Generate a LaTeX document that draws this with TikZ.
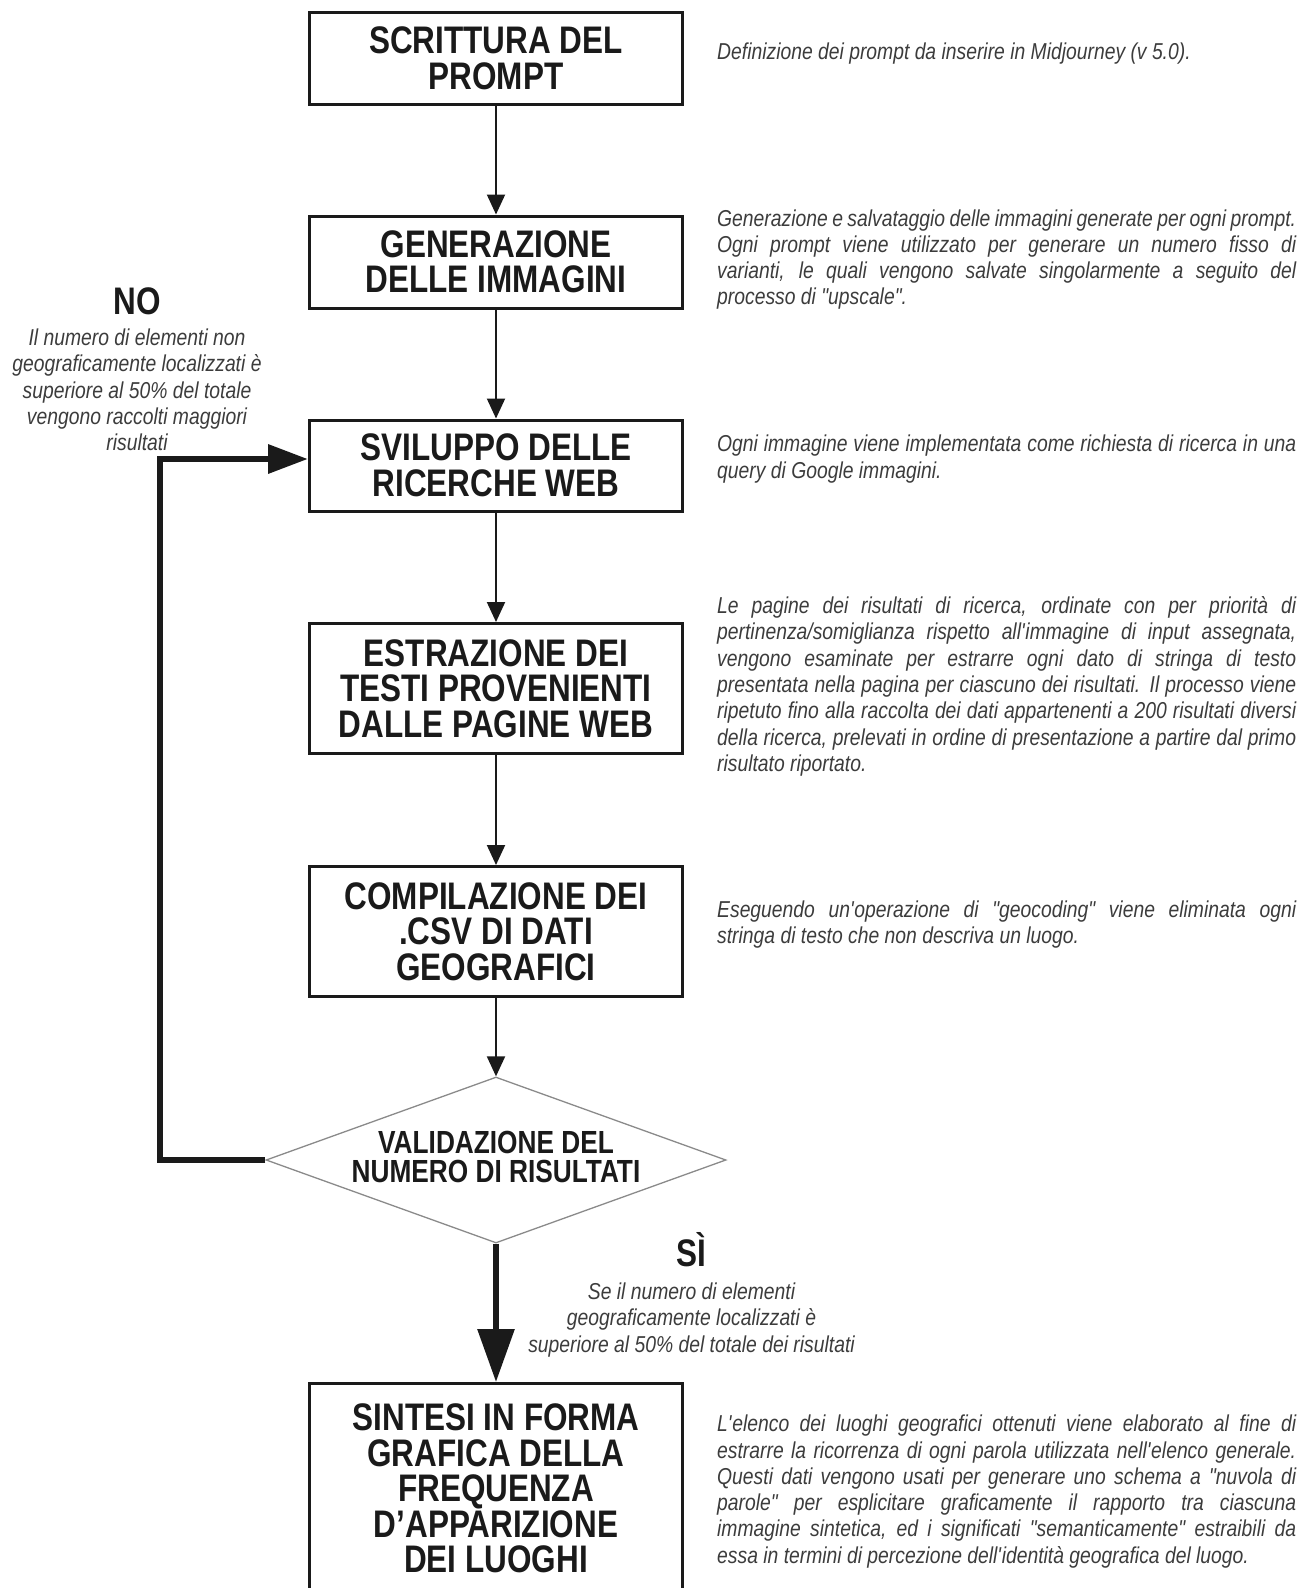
\documentclass[tikz,border=0pt]{standalone}
\usepackage{fontspec}
\usetikzlibrary{arrows.meta,shapes.geometric}
\newfontfamily\descfont[FakeStretch=0.84]{Liberation Sans}
\newfontfamily\narrowfont[FakeStretch=0.82]{Liberation Sans}
\newlength\descw \setlength\descw{579pt}
\newcommand\jl[1]{\makebox[\descw][s]{#1}\\}
\newcommand\ap{\textquotesingle}
\definecolor{boxink}{HTML}{1A1A1A}
\definecolor{descink}{HTML}{3C3C3C}
\definecolor{dmline}{HTML}{8A8A8A}
\begin{document}
\begin{tikzpicture}[x=1pt,y=-1pt,
  box/.style={draw=boxink, line width=3pt, minimum width=373pt, inner sep=0pt,
    align=center, text=boxink, font=\narrowfont\bfseries\fontsize{38.4}{35.5}\selectfont},
  big/.style={inner sep=0pt, text=boxink, font=\narrowfont\bfseries\fontsize{38.4}{35.5}\selectfont},
  desc/.style={anchor=west, align=left, inner sep=0pt, text=descink,
    font=\descfont\itshape\fontsize{23}{26.3}\selectfont},
  side/.style={align=center, inner sep=0pt, text=descink,
    font=\descfont\itshape\fontsize{23}{26.3}\selectfont},
  flow/.style={draw=boxink, line width=2pt, -{Triangle[length=20pt,width=18pt]}},
  fb/.style={draw=boxink, line width=6.5pt, line join=miter, -{Triangle[length=40pt,width=28pt]}},
  yes/.style={draw=boxink, line width=6pt, -{Triangle[length=53pt,width=36pt]}}]
\useasboundingbox (0,0) rectangle (1308,1588);

% boxes
\node[box, minimum height=92pt] (B1) at (496,58.5) {SCRITTURA DEL\\PROMPT};
\node[box, minimum height=92pt] (B2) at (496,262) {GENERAZIONE\\DELLE IMMAGINI};
\node[box, minimum height=91pt] (B3) at (496,465.5) {SVILUPPO DELLE\\RICERCHE WEB};
\node[box, minimum height=130pt] (B4) at (496,688.5) {ESTRAZIONE DEI\\TESTI PROVENIENTI\\DALLE PAGINE WEB};
\node[box, minimum height=130pt] (B5) at (496,931.5) {COMPILAZIONE DEI\\.CSV DI DATI\\GEOGRAFICI};
\node[draw=dmline, line width=1.3pt, shape=diamond, minimum width=460pt, minimum height=166pt, inner sep=0pt] (D) at (496,1160) {};
\node[align=center, inner sep=0pt, text=boxink, font=\narrowfont\bfseries\fontsize{32}{29.5}\selectfont] (DT) at (496,1157) {VALIDAZIONE DEL\\NUMERO DI RISULTATI};
\node[box, minimum height=210pt, anchor=north] (B6) at (496,1382) {SINTESI IN FORMA\\GRAFICA DELLA\\FREQUENZA\\D’APPARIZIONE\\DEI LUOGHI};

% connectors
\draw[flow] (B1) -- (B2);
\draw[flow] (B2) -- (B3);
\draw[flow] (B3) -- (B4);
\draw[flow] (B4) -- (B5);
\draw[flow] (B5) -- (D);
\draw[yes] (D.south) -- (B6.north);
\coordinate (fbc) at (160,459);
\draw[fb] (D.west) -| (fbc) -- (B3.west |- fbc);

% NO / SI labels
\node[big, anchor=base] (NO) at (137,314) {NO};
\node[side] (NOt) at (137,390) {Il numero di elementi non\\geograficamente localizzati è\\superiore al 50\% del totale\\vengono raccolti maggiori\\risultati};
\node[big, anchor=base] (SI) at (691.5,1266) {SÌ};
\node[side] (SIt) at (691.5,1320) {Se il numero di elementi\\geograficamente localizzati è\\superiore al 50\% del totale dei risultati};

% descriptions
\node[desc] (T1) at (717,54) {Definizione dei prompt da inserire in Midjourney (v 5.0).};
\node[desc] (T2) at (717,259.5) {\jl{Generazione e salvataggio delle immagini generate per ogni prompt.}\jl{Ogni prompt viene utilizzato per generare un numero fisso di}\jl{varianti, le quali vengono salvate singolarmente a seguito del}processo di "upscale".};
\node[desc] (T3) at (717,459) {\jl{Ogni immagine viene implementata come richiesta di ricerca in una}query di Google immagini.};
\node[desc] (T4) at (717,686.5) {\jl{Le pagine dei risultati di ricerca, ordinate con per priorità di}\jl{pertinenza/somiglianza rispetto all\ap immagine di input assegnata,}\jl{vengono esaminate per estrarre ogni dato di stringa di testo}\jl{presentata nella pagina per ciascuno dei risultati. Il processo viene}\jl{ripetuto fino alla raccolta dei dati appartenenti a 200 risultati diversi}\jl{della ricerca, prelevati in ordine di presentazione a partire dal primo}risultato riportato.};
\node[desc] (T5) at (717,924.5) {\jl{Eseguendo un\ap operazione di "geocoding" viene eliminata ogni}stringa di testo che non descriva un luogo.};
\node[desc] (T6) at (717,1491.5) {\jl{L\ap elenco dei luoghi geografici ottenuti viene elaborato al fine di}\jl{estrarre la ricorrenza di ogni parola utilizzata nell\ap elenco generale.}\jl{Questi dati vengono usati per generare uno schema a "nuvola di}\jl{parole" per esplicitare graficamente il rapporto tra ciascuna}\jl{immagine sintetica, ed i significati "semanticamente" estraibili da}essa in termini di percezione dell\ap identità geografica del luogo.};
\end{tikzpicture}
\end{document}
